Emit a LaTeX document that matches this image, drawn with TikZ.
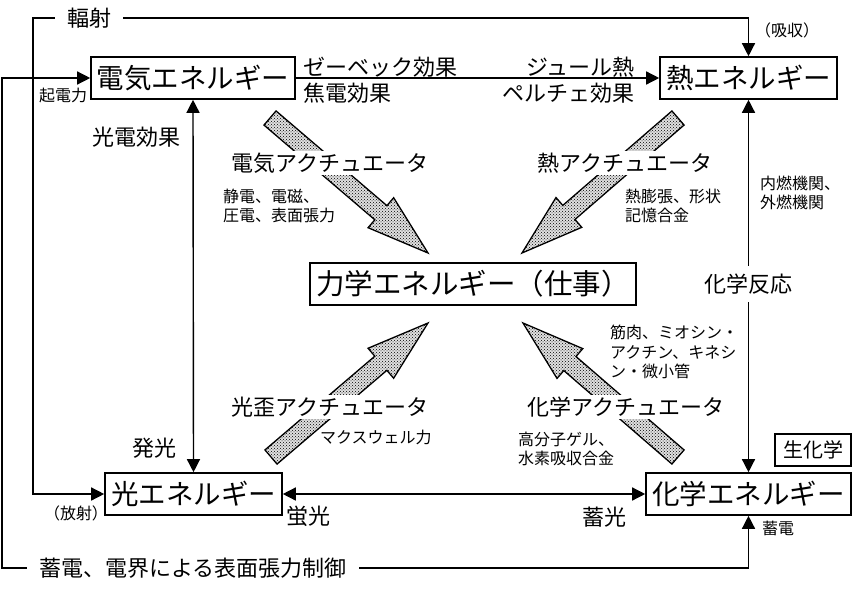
\documentclass[tikz,border=0pt]{standalone}
\usepackage{fontspec}
\setmainfont{Noto Sans CJK JP}
\usetikzlibrary{calc,arrows.meta,patterns}

\tikzset{
  ebox/.style={draw, line width=1.6pt, inner sep=0pt, minimum height=42pt, font=\fontsize{27.5}{30}\selectfont},
  conn/.style={line width=1.4pt, -{Triangle[length=13pt,width=13pt]}},
  dconn/.style={line width=1.4pt, {Triangle[length=13pt,width=13pt]}-{Triangle[length=13pt,width=13pt]}},
  midlbl/.style={font=\fontsize{22}{24}\selectfont, inner sep=2pt},
  smalllbl/.style={font=\fontsize{16}{19.5}\selectfont, inner sep=0pt, align=left},
  actshape/.style={draw, line width=1.3pt, preaction={fill=black!12}, pattern=crosshatch dots, pattern color=black},
}

\begin{document}
\begin{tikzpicture}[x=1pt, y=-1pt]
    \useasboundingbox (0,0) rectangle (852,594);

    % Energy boxes
    \node[ebox, minimum width=204pt] (elec) at (193,78) {電気エネルギー};
    \node[ebox, minimum width=177pt] (heat) at (748.5,78) {熱エネルギー};
    \node[ebox, minimum width=326pt, font=\fontsize{28.5}{30}\selectfont] (mech) at (473,284) {力学エネルギー（仕事）};
    \node[ebox, minimum width=177pt] (light) at (193.5,494) {光エネルギー};
    \node[ebox, minimum width=205pt] (chem) at (748.5,494) {化学エネルギー};
    \node[draw, line width=1.6pt, minimum width=76pt, minimum height=32pt, inner sep=0pt, font=\fontsize{20}{22}\selectfont] (bioc) at (813,450) {生化学};

    % Connectors between boxes
    \draw[conn] (elec.east) -- (heat.west);
    \draw[dconn] (elec.south) -- (light.north);
    \draw[dconn] (heat.south) -- (chem.north);
    \draw[dconn] (light.east) -- (chem.west);

    % Outer loops
    \coordinate (radTL) at (33,18);
    \coordinate (chgBL) at (2,568);
    \draw[dconn] (light.west) -| (radTL) -| (heat.north);
    \draw[dconn] (elec.west) -| (chgBL) -| (chem.south);

    % Actuator arrows (tail x/y, tip x/y)
    \foreach \tx/\ty/\px/\py [count=\i] in {270/118/428/253, 678/118/522/253, 271/457/428/323, 678/457/523/323} {
        \coordinate (tail\i) at (\tx,\ty);
        \coordinate (tip\i) at (\px,\py);
        \coordinate (head\i) at ($(tip\i)!62pt!(tail\i)$);
        \draw[actshape] ($(tail\i)!9.3pt!90:(tip\i)$) -- ($(head\i)!9.3pt!90:(tip\i)$)
            -- ($(head\i)!19.7pt!90:(tip\i)$) -- (tip\i)
            -- ($(head\i)!19.7pt!-90:(tip\i)$) -- ($(head\i)!9.3pt!-90:(tip\i)$)
            -- ($(tail\i)!9.3pt!-90:(tip\i)$) -- cycle;
    }

    % Labels sitting on lines
    \node[midlbl, fill=white, inner xsep=12pt] (radlbl) at (89,18) {輻射};
    \node[midlbl, fill=white, inner xsep=12pt] (chglbl) at (193,568) {蓄電、電界による表面張力制御};
    \node[midlbl, fill=white, inner ysep=8pt] (reaclbl) at (748,284) {化学反応};

    % Actuator labels
    \node[midlbl, fill=white] (elact) at (330,163) {電気アクチュエータ};
    \node[midlbl, fill=white] (htact) at (625,163) {熱アクチュエータ};
    \node[midlbl, fill=white] (ltact) at (330,407) {光歪アクチュエータ};
    \node[midlbl, fill=white] (chact) at (626,407) {化学アクチュエータ};

    % Effect labels
    \node[midlbl, anchor=west] (seeb) at (301,67) {ゼーベック効果};
    \node[midlbl, anchor=west] (pyro) at (301,93) {焦電効果};
    \node[midlbl, anchor=east] (joule) at (637,67) {ジュール熱};
    \node[midlbl, anchor=east] (pelt) at (637,93) {ペルチェ効果};
    \node[midlbl] (phel) at (136,137) {光電効果};
    \node[midlbl] (emit) at (154,448) {発光};
    \node[midlbl] (fluo) at (308,516) {蛍光};
    \node[midlbl] (phos) at (604,517) {蓄光};

    % Small notes
    \node[smalllbl] (emf) at (63,95) {起電力};
    \node[smalllbl] (radout) at (76,513) {（放射）};
    \node[smalllbl, anchor=west] (radin) at (755,30) {（吸収）};
    \node[smalllbl, anchor=west] (elnote) at (223,206) {静電、電磁、\\圧電、表面張力};
    \node[smalllbl, anchor=west] (htnote) at (625,206) {熱膨張、形状\\記憶合金};
    \node[smalllbl, anchor=west] (engnote) at (760,193) {内燃機関、\\外燃機関};
    \node[smalllbl, anchor=west] (bionote) at (610,352) {筋肉、ミオシン・\\アクチン、キネシ\\ン・微小管};
    \node[smalllbl, anchor=west] (ltnote) at (320,437) {マクスウェル力};
    \node[smalllbl, anchor=west] (chnote) at (518,449) {高分子ゲル、\\水素吸収合金};
    \node[smalllbl, anchor=west] (store) at (762,528) {蓄電};
\end{tikzpicture}
\end{document}
